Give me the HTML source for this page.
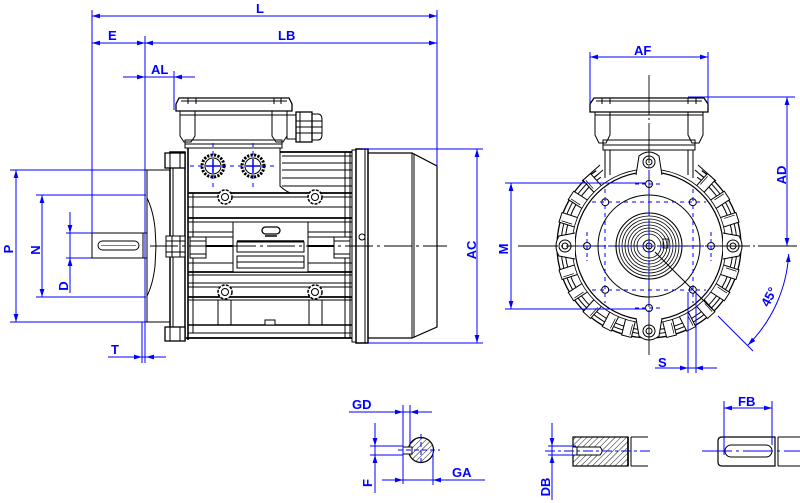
<!DOCTYPE html>
<html><head><meta charset="utf-8">
<style>
html,body{margin:0;padding:0;background:#fff;}
svg{display:block;}
text{font-family:"Liberation Sans",sans-serif;font-weight:bold;font-size:13px;fill:#0000ff;}
</style></head><body>
<svg width="800" height="503" viewBox="0 0 800 503" xmlns="http://www.w3.org/2000/svg">
<defs>
<marker id="a" viewBox="0 0 8 6" refX="8" refY="3" markerWidth="8" markerHeight="6" markerUnits="userSpaceOnUse" orient="auto-start-reverse"><path d="M0,0.6 L8,3 L0,5.4 z" fill="#0000ff"/></marker>
<pattern id="h" width="4" height="4" patternUnits="userSpaceOnUse" patternTransform="rotate(45)"><line x1="0" y1="0" x2="0" y2="4" stroke="#000" stroke-width="0.9"/></pattern>
<g id="rib"><rect x="725" y="241" width="17" height="10" fill="#fff" stroke="#000" stroke-width="1"/><line x1="729" y1="243" x2="740" y2="243" stroke="#000" stroke-width="0.7"/></g>
</defs>

<!-- ============ SIDE VIEW (black) ============ -->
<g stroke="#000" fill="none" stroke-width="1">
  <!-- shaft -->
  <rect x="92" y="233" width="53" height="25" fill="#fff"/>
  <rect x="98" y="241" width="41" height="9" rx="4.5"/>
  <line x1="101" y1="245.5" x2="136" y2="245.5" stroke-width="0.6"/>
  <!-- flange shield -->
  <line x1="145" y1="170" x2="170" y2="170"/>
  <line x1="145" y1="322" x2="170" y2="322"/>
  <line x1="147" y1="170" x2="147" y2="322"/>
  <path d="M147,198 Q153,210 155,228 L156,246 L155,266 Q153,284 147,296"/>
  <rect x="143" y="233" width="4" height="25"/>
  <!-- flange plate -->
  <rect x="170" y="152" width="15" height="188" fill="#fff" stroke-width="1.5"/>
  <line x1="173" y1="152" x2="173" y2="340"/>
  <rect x="165" y="153" width="20" height="15" fill="#fff" stroke-width="1.3"/>
  <line x1="170" y1="153" x2="170" y2="168"/><line x1="180" y1="153" x2="180" y2="168"/>
  <rect x="165" y="327" width="20" height="14" fill="#fff" stroke-width="1.3"/>
  <line x1="170" y1="327" x2="170" y2="341"/><line x1="180" y1="327" x2="180" y2="341"/>
  <rect x="166" y="236" width="19" height="21" fill="#fff"/>
  <line x1="172" y1="236" x2="172" y2="257"/><line x1="180" y1="236" x2="180" y2="257"/>
  <line x1="166" y1="241" x2="185" y2="241"/><line x1="166" y1="252" x2="185" y2="252"/>

  <!-- terminal box side -->
  <path d="M176,104 L179,98 L289,98 L292,104 L292,111 L176,111 Z" fill="#fff" stroke-width="1.3"/>
  <line x1="181" y1="101" x2="287" y2="101"/>
  <line x1="188" y1="98" x2="188" y2="104"/><line x1="196" y1="98" x2="196" y2="104"/>
  <line x1="274" y1="98" x2="274" y2="104"/><line x1="281" y1="98" x2="281" y2="104"/>
  <line x1="180" y1="115" x2="287" y2="115"/>
  <path d="M180,111 L180,136 L184,142 L191,142 L195,136 L195,111"/>
  <path d="M272,111 L272,136 L276,142 L283,142 L287,136 L287,111"/>
  <line x1="195" y1="140" x2="272" y2="140"/>
  <rect x="185" y="140" width="97" height="8"/>
  <line x1="185" y1="144" x2="282" y2="144"/>
  <!-- cable gland -->
  <rect x="287" y="115" width="9" height="24" fill="#fff"/>
  <rect x="296" y="112" width="16" height="30" fill="#fff" stroke-width="1.3"/>
  <path d="M312,114 L318,114 Q322,114 322,120 L322,134 Q322,140 318,140 L312,140"/>
  <line x1="296" y1="121" x2="322" y2="121"/><line x1="296" y1="127" x2="322" y2="127"/><line x1="296" y1="133" x2="322" y2="133"/>
  <line x1="300" y1="112" x2="300" y2="142"/>
  <!-- base under box -->
  <line x1="188" y1="148" x2="188" y2="340" stroke-width="1.6"/>
  <line x1="193" y1="193" x2="193" y2="333"/>
  <path d="M280,148 L280,186 Q284,190 290,193"/>
  <!-- glands -->
  <circle cx="213" cy="166" r="11" stroke-width="3" stroke-dasharray="2.2,1.3"/>
  <circle cx="213" cy="166" r="8"/>
  <circle cx="253" cy="166" r="11" stroke-width="3" stroke-dasharray="2.2,1.3"/>
  <circle cx="253" cy="166" r="8"/>
  <!-- body top right of box -->
  <line x1="280" y1="152" x2="352" y2="152" stroke-width="1.8"/>
  <line x1="282" y1="156" x2="352" y2="156"/>
  <line x1="282" y1="163" x2="352" y2="163"/>
  <line x1="282" y1="170" x2="352" y2="170"/>
  <line x1="282" y1="178" x2="352" y2="178"/>
  <line x1="282" y1="186" x2="352" y2="186"/>
  <line x1="345" y1="152" x2="345" y2="338"/>
  <line x1="350" y1="152" x2="350" y2="338"/>
  <!-- fins -->
  <line x1="188" y1="193" x2="352" y2="193" stroke-width="1.8"/>
  <line x1="188" y1="197" x2="352" y2="197"/>
  <line x1="188" y1="207" x2="352" y2="207"/>
  <line x1="188" y1="218" x2="352" y2="218" stroke-width="1.8"/>
  <line x1="188" y1="222" x2="352" y2="222"/>
  <line x1="188" y1="232" x2="352" y2="232"/>
  <line x1="188" y1="237" x2="352" y2="237"/>
  <line x1="188" y1="263" x2="352" y2="263"/>
  <line x1="188" y1="272" x2="352" y2="272" stroke-width="1.8"/>
  <line x1="188" y1="275" x2="352" y2="275"/>
  <line x1="188" y1="283" x2="352" y2="283"/>
  <line x1="188" y1="287" x2="352" y2="287"/>
  <line x1="188" y1="297" x2="352" y2="297" stroke-width="1.8"/>
  <line x1="188" y1="300" x2="352" y2="300"/>
  <line x1="188" y1="325" x2="352" y2="325" stroke-width="1.6"/>
  <line x1="188" y1="333" x2="352" y2="333"/>
  <line x1="186" y1="338" x2="352" y2="338" stroke-width="1.8"/>
  <!-- feet struts -->
  <line x1="218" y1="300" x2="218" y2="325"/><line x1="231" y1="300" x2="231" y2="325"/>
  <line x1="309" y1="300" x2="309" y2="325"/><line x1="322" y1="300" x2="322" y2="325"/>
  <rect x="265" y="320" width="10" height="5" fill="#fff"/>
  <!-- side brackets -->
  <rect x="190" y="237" width="16" height="21" fill="#fff"/>
  <line x1="190" y1="241" x2="206" y2="241"/><line x1="190" y1="254" x2="206" y2="254"/>
  <rect x="334" y="237" width="16" height="21" fill="#fff"/>
  <line x1="334" y1="241" x2="350" y2="241"/><line x1="334" y1="254" x2="350" y2="254"/>
  <line x1="206" y1="246" x2="233" y2="246" stroke-width="2"/>
  <line x1="308" y1="246" x2="334" y2="246" stroke-width="2"/>
  <!-- nameplate -->
  <rect x="233" y="222" width="75" height="50" fill="#fff"/>
  <rect x="262" y="227" width="18" height="7" rx="3.5" stroke-width="1.3"/>
  <line x1="265" y1="236" x2="277" y2="236" stroke-width="1.5"/>
  <line x1="237" y1="241" x2="304" y2="241" stroke-width="1.5"/>
  <rect x="237" y="242" width="67" height="10"/>
  <rect x="237" y="256" width="67" height="12"/>
  <line x1="237" y1="262" x2="304" y2="262"/>
  <!-- bosses -->
  <g fill="#fff">
  <circle cx="225" cy="197" r="7" stroke-width="1.5" stroke-dasharray="3,1.2"/><circle cx="225" cy="197" r="3.5"/>
  <circle cx="315" cy="197" r="7" stroke-width="1.5" stroke-dasharray="3,1.2"/><circle cx="315" cy="197" r="3.5"/>
  <circle cx="225" cy="292" r="7" stroke-width="1.5" stroke-dasharray="3,1.2"/><circle cx="225" cy="292" r="3.5"/>
  <circle cx="315" cy="292" r="7" stroke-width="1.5" stroke-dasharray="3,1.2"/><circle cx="315" cy="292" r="3.5"/>
  </g>
  <!-- fan cover -->
  <rect x="352" y="150" width="4" height="192" fill="#fff"/>
  <rect x="356" y="149" width="12" height="194" fill="#fff" stroke-width="1.5"/>
  <line x1="365" y1="149" x2="365" y2="343"/>
  <circle cx="362" cy="237" r="3"/>
  <path d="M368,153 L412,153 L437,166 L437,327 L412,338 L368,338" stroke-width="1.2"/>
  <line x1="412" y1="153" x2="412" y2="338"/>
  <line x1="414" y1="154" x2="414" y2="337"/>
  <!-- centerline -->
  <line x1="150" y1="246" x2="447" y2="246" stroke-dasharray="28,4,3,4" stroke-width="0.9"/>
</g>

<!-- side view blue dims -->
<g stroke="#0000ff" fill="none" stroke-width="1">
  <line x1="92" y1="16" x2="437" y2="16" marker-start="url(#a)" marker-end="url(#a)"/>
  <line x1="92" y1="10" x2="92" y2="233"/>
  <line x1="437" y1="10" x2="437" y2="166"/>
  <line x1="92" y1="43" x2="145" y2="43" marker-start="url(#a)" marker-end="url(#a)"/>
  <line x1="145" y1="43" x2="437" y2="43" marker-start="url(#a)" marker-end="url(#a)"/>
  <line x1="145" y1="36" x2="145" y2="363"/>
  <line x1="123" y1="77" x2="195" y2="77"/>
  <line x1="130" y1="77" x2="145" y2="77" marker-end="url(#a)"/>
  <line x1="189" y1="77" x2="174" y2="77" marker-end="url(#a)"/>
  <line x1="174" y1="71" x2="174" y2="110"/>
  <!-- P -->
  <line x1="16" y1="170" x2="16" y2="322" marker-start="url(#a)" marker-end="url(#a)"/>
  <line x1="10" y1="170" x2="145" y2="170"/>
  <line x1="10" y1="322" x2="145" y2="322"/>
  <!-- N -->
  <line x1="42" y1="195" x2="42" y2="297" marker-start="url(#a)" marker-end="url(#a)"/>
  <line x1="36" y1="195" x2="146" y2="195"/>
  <line x1="36" y1="297" x2="146" y2="297"/>
  <!-- D -->
  <line x1="70" y1="212" x2="70" y2="293"/>
  <line x1="70" y1="218" x2="70" y2="233" marker-end="url(#a)"/>
  <line x1="70" y1="273" x2="70" y2="258" marker-end="url(#a)"/>
  <line x1="66" y1="233" x2="92" y2="233"/>
  <line x1="66" y1="258" x2="92" y2="258"/>
  <!-- T -->
  <line x1="108" y1="357" x2="166" y2="357"/>
  <line x1="128" y1="357" x2="142" y2="357" marker-end="url(#a)"/>
  <line x1="160" y1="357" x2="146" y2="357" marker-end="url(#a)"/>
  <line x1="142" y1="322" x2="142" y2="363"/>
  <!-- glands blue -->
  <line x1="190" y1="166" x2="276" y2="166" stroke-dasharray="4,4"/>
  <line x1="213" y1="143" x2="213" y2="190" stroke-dasharray="4,4"/>
  <line x1="253" y1="143" x2="253" y2="190" stroke-dasharray="4,4"/>
  <line x1="206" y1="166" x2="220" y2="166" stroke-width="1.5"/><line x1="213" y1="159" x2="213" y2="173" stroke-width="1.5"/>
  <line x1="246" y1="166" x2="260" y2="166" stroke-width="1.5"/><line x1="253" y1="159" x2="253" y2="173" stroke-width="1.5"/>
  <!-- AC -->
  <line x1="477" y1="149" x2="477" y2="343" marker-start="url(#a)" marker-end="url(#a)"/>
  <line x1="362" y1="149" x2="483" y2="149"/>
  <line x1="368" y1="343" x2="483" y2="343"/>
</g>

<!-- ============ END VIEW (black) ============ -->
<g stroke="#000" fill="none" stroke-width="1">
  <!-- terminal box -->
  <path d="M590,104 L594,98 L704,98 L708,104 L708,112 L590,112 Z" fill="#fff" stroke-width="1.3"/>
  <line x1="596" y1="101" x2="702" y2="101"/>
  <line x1="602" y1="98" x2="602" y2="104"/><line x1="610" y1="98" x2="610" y2="104"/>
  <line x1="688" y1="98" x2="688" y2="104"/><line x1="696" y1="98" x2="696" y2="104"/>
  <line x1="595" y1="115" x2="703" y2="115"/>
  <path d="M595,112 L595,135 L599,143 L606,143 L610,135 L610,112"/>
  <path d="M688,112 L688,135 L692,143 L699,143 L703,135 L703,112"/>
  <line x1="610" y1="140" x2="688" y2="140"/>
  <rect x="603" y="140" width="92" height="10"/>
  <line x1="603" y1="145" x2="695" y2="145"/>
  <line x1="605" y1="150" x2="605" y2="178"/><line x1="610" y1="150" x2="610" y2="175"/>
  <line x1="693" y1="150" x2="693" y2="178"/><line x1="688" y1="150" x2="688" y2="175"/>
  <line x1="600" y1="165" x2="582" y2="181"/><line x1="603" y1="170" x2="588" y2="183"/>
  <line x1="698" y1="165" x2="716" y2="181"/><line x1="695" y1="170" x2="710" y2="183"/>
  <!-- housing outer contours -->
  <path d="M701.8,170.6 A92,92 0 1 1 596.2,170.6" stroke-width="1.3"/>
  <path d="M699.5,173.9 A88,88 0 1 1 598.5,173.9"/>
  <path d="M697.2,177.2 A84,84 0 1 1 600.8,177.2"/>
</g>
<!-- ribs -->
<use href="#rib" transform="rotate(-48 649 246)"/>
<use href="#rib" transform="rotate(-33 649 246)"/>
<use href="#rib" transform="rotate(-18 649 246)"/>
<use href="#rib" transform="rotate(18 649 246)"/>
<use href="#rib" transform="rotate(33 649 246)"/>
<use href="#rib" transform="rotate(48 649 246)"/>
<use href="#rib" transform="rotate(63 649 246)"/>
<use href="#rib" transform="rotate(76 649 246)"/>
<use href="#rib" transform="rotate(104 649 246)"/>
<use href="#rib" transform="rotate(117 649 246)"/>
<use href="#rib" transform="rotate(132 649 246)"/>
<use href="#rib" transform="rotate(147 649 246)"/>
<use href="#rib" transform="rotate(162 649 246)"/>
<use href="#rib" transform="rotate(198 649 246)"/>
<use href="#rib" transform="rotate(213 649 246)"/>
<use href="#rib" transform="rotate(228 649 246)"/>
<g stroke="#000" fill="none" stroke-width="1">
  <circle cx="649" cy="246" r="77" fill="#fff" stroke-width="0.8"/>
  <circle cx="649" cy="246" r="74" stroke-width="1.2"/>
  <!-- lugs -->
  <path d="M636,175 L639,156 Q649,148 659,156 L662,175" fill="#fff"/>
  <circle cx="649" cy="162" r="6" fill="#fff"/><circle cx="649" cy="162" r="3"/>
  <path d="M636,318 L639,336 Q649,344 659,336 L662,318" fill="#fff"/>
  <circle cx="649" cy="331" r="6" fill="#fff"/><circle cx="649" cy="331" r="3"/>
  <path d="M575,233 L559,236 Q553,246 559,256 L575,259" fill="#fff"/>
  <circle cx="565" cy="246" r="6" fill="#fff"/><circle cx="565" cy="246" r="3"/>
  <path d="M723,233 L739,236 Q745,246 739,256 L723,259" fill="#fff"/>
  <circle cx="733" cy="246" r="6" fill="#fff"/><circle cx="733" cy="246" r="3"/>
  <!-- inner -->
  <circle cx="649" cy="246" r="51"/>
  <circle cx="649" cy="246" r="33" stroke-width="1.1"/>
  <circle cx="649" cy="246" r="30" stroke-width="0.8"/>
  <circle cx="649" cy="246" r="27" stroke-width="0.8"/>
  <circle cx="649" cy="246" r="24" stroke-width="0.8"/>
  <circle cx="649" cy="246" r="21" stroke-width="0.8"/>
  <circle cx="649" cy="246" r="18" stroke-width="0.8"/>
  <circle cx="649" cy="246" r="15" stroke-width="0.8"/>
  <circle cx="649" cy="246" r="12" stroke-width="0.8"/>
  <circle cx="649" cy="246" r="6"/>
  <circle cx="649" cy="246" r="3"/>
  <rect x="663" y="239" width="5" height="9" stroke-width="0.8"/>
  <!-- bolt holes -->
  <circle cx="711" cy="246" r="3.5"/><circle cx="692.8" cy="289.8" r="3.5"/>
  <circle cx="649" cy="308" r="3.5"/><circle cx="605.2" cy="289.8" r="3.5"/>
  <circle cx="587" cy="246" r="3.5"/><circle cx="605.2" cy="202.2" r="3.5"/>
  <circle cx="649" cy="184" r="3.5"/><circle cx="692.8" cy="202.2" r="3.5"/>
  <!-- crosshair -->
  <line x1="649" y1="75" x2="649" y2="358" stroke-dasharray="40,3,2,3" stroke-width="0.9"/>
  <line x1="518" y1="246" x2="797" y2="246" stroke-dasharray="40,3,2,3" stroke-width="0.9"/>
  <line x1="655" y1="252" x2="713" y2="310"/>
</g>
<!-- end view blue -->
<g stroke="#0000ff" fill="none" stroke-width="1">
  <line x1="592" y1="202" x2="706" y2="202" stroke-dasharray="4,4"/>
  <line x1="592" y1="290" x2="706" y2="290" stroke-dasharray="4,4"/>
  <line x1="605" y1="189" x2="605" y2="303" stroke-dasharray="4,4"/>
  <line x1="693" y1="189" x2="693" y2="303" stroke-dasharray="4,4"/>
  <line x1="649" y1="170" x2="649" y2="322" stroke-dasharray="6,4"/>
  <line x1="578" y1="246" x2="720" y2="246" stroke-dasharray="6,4"/>
  <line x1="587" y1="232" x2="587" y2="261" stroke-dasharray="4,3"/>
  <line x1="711" y1="232" x2="711" y2="261" stroke-dasharray="4,3"/>
  <line x1="635" y1="184" x2="663" y2="184" stroke-dasharray="4,3"/>
  <line x1="635" y1="308" x2="663" y2="308" stroke-dasharray="4,3"/>
  <!-- AF -->
  <line x1="590" y1="57" x2="708" y2="57" marker-start="url(#a)" marker-end="url(#a)"/>
  <line x1="590" y1="52" x2="590" y2="104"/>
  <line x1="708" y1="52" x2="708" y2="104"/>
  <!-- AD -->
  <line x1="787" y1="97" x2="787" y2="246" marker-start="url(#a)" marker-end="url(#a)"/>
  <line x1="688" y1="97" x2="795" y2="97"/>
  <!-- M -->
  <line x1="511" y1="183" x2="511" y2="309" marker-start="url(#a)" marker-end="url(#a)"/>
  <line x1="505" y1="183" x2="645" y2="183"/>
  <line x1="505" y1="309" x2="645" y2="309"/>
  <!-- 45 -->
  <path d="M788.7,254 A140,140 0 0 1 748,345" marker-start="url(#a)" marker-end="url(#a)"/>
  <line x1="718" y1="316" x2="753" y2="351"/>
  <!-- S -->
  <line x1="655" y1="368" x2="717" y2="368"/>
  <line x1="674" y1="368" x2="688" y2="368" marker-end="url(#a)"/>
  <line x1="709" y1="368" x2="695" y2="368" marker-end="url(#a)"/>
  <line x1="688" y1="292" x2="688" y2="373"/>
  <line x1="696" y1="292" x2="696" y2="373"/>
</g>

<!-- ============ DETAILS ============ -->
<g stroke="#000" fill="none" stroke-width="1">
  <circle cx="421" cy="450" r="12.5" fill="url(#h)" stroke-width="1.2"/>
  <rect x="403" y="447" width="9" height="7" fill="#fff"/>
  <rect x="573" y="437" width="55" height="29" fill="url(#h)" stroke-width="1.2"/>
  <path d="M573,447 L600,447 Q604,451 600,455 L573,455" fill="#fff"/>
  <line x1="577" y1="447" x2="577" y2="455"/>
  <line x1="628" y1="437" x2="628" y2="466" stroke-width="1.6"/>
  <line x1="631" y1="437" x2="631" y2="466"/>
  <line x1="631" y1="437" x2="648" y2="437"/><line x1="631" y1="466" x2="648" y2="466"/>
  <path d="M722,437 L775,437 L775,466 L722,466 Q718,466 718,462 L718,441 Q718,437 722,437 Z" stroke-width="1.2"/>
  <rect x="725" y="445" width="47" height="12" rx="6"/>
  <line x1="778" y1="437" x2="778" y2="466"/>
  <line x1="778" y1="437" x2="800" y2="437"/><line x1="778" y1="466" x2="800" y2="466"/>
</g>
<g stroke="#0000ff" fill="none" stroke-width="1">
  <!-- GD -->
  <line x1="349" y1="412" x2="432" y2="412"/>
  <line x1="389" y1="412" x2="403" y2="412" marker-end="url(#a)"/>
  <line x1="424" y1="412" x2="410" y2="412" marker-end="url(#a)"/>
  <line x1="403" y1="405" x2="403" y2="484"/>
  <line x1="410" y1="405" x2="410" y2="446"/>
  <!-- F -->
  <line x1="375" y1="423" x2="375" y2="493"/>
  <line x1="375" y1="431" x2="375" y2="446" marker-end="url(#a)"/>
  <line x1="375" y1="470" x2="375" y2="455" marker-end="url(#a)"/>
  <line x1="370" y1="446" x2="403" y2="446"/>
  <line x1="370" y1="455" x2="403" y2="455"/>
  <!-- GA -->
  <line x1="382" y1="480" x2="485" y2="480"/>
  <line x1="389" y1="480" x2="403" y2="480" marker-end="url(#a)"/>
  <line x1="447" y1="480" x2="433" y2="480" marker-end="url(#a)"/>
  <line x1="433" y1="452" x2="433" y2="485"/>
  <line x1="421" y1="434" x2="421" y2="466" stroke-dasharray="5,3"/>
  <line x1="398" y1="450" x2="440" y2="450" stroke-dasharray="5,3"/>
  <!-- DB -->
  <line x1="552" y1="423" x2="552" y2="500"/>
  <line x1="552" y1="431" x2="552" y2="446" marker-end="url(#a)"/>
  <line x1="552" y1="470" x2="552" y2="455" marker-end="url(#a)"/>
  <line x1="548" y1="446" x2="576" y2="446"/>
  <line x1="548" y1="455" x2="576" y2="455"/>
  <line x1="545" y1="451" x2="652" y2="451" stroke-dasharray="10,3,3,3"/>
  <!-- FB -->
  <line x1="724" y1="408" x2="772" y2="408" marker-start="url(#a)" marker-end="url(#a)"/>
  <line x1="724" y1="401" x2="724" y2="455"/>
  <line x1="772" y1="401" x2="772" y2="445"/>
  <line x1="702" y1="451" x2="800" y2="451" stroke-dasharray="30,4,3,4"/>
</g>

<!-- ============ LABELS ============ -->
<text x="256" y="13">L</text>
<text x="108" y="40">E</text>
<text x="278" y="40">LB</text>
<text x="151" y="74">AL</text>
<text x="111" y="354">T</text>
<text transform="translate(13,249) rotate(-90)" text-anchor="middle">P</text>
<text transform="translate(40,250) rotate(-90)" text-anchor="middle">N</text>
<text transform="translate(68,286) rotate(-90)" text-anchor="middle">D</text>
<text transform="translate(476,250) rotate(-90)" text-anchor="middle">AC</text>
<text x="634" y="55">AF</text>
<text transform="translate(786,175) rotate(-90)" text-anchor="middle">AD</text>
<text transform="translate(508,249) rotate(-90)" text-anchor="middle">M</text>
<text transform="translate(773,299) rotate(-62)" text-anchor="middle">45°</text>
<text x="658" y="367">S</text>
<text x="352" y="409">GD</text>
<text x="452" y="477">GA</text>
<text transform="translate(372,483) rotate(-90)" text-anchor="middle">F</text>
<text transform="translate(550,487) rotate(-90)" text-anchor="middle">DB</text>
<text x="738" y="406">FB</text>
</svg>
</body></html>
